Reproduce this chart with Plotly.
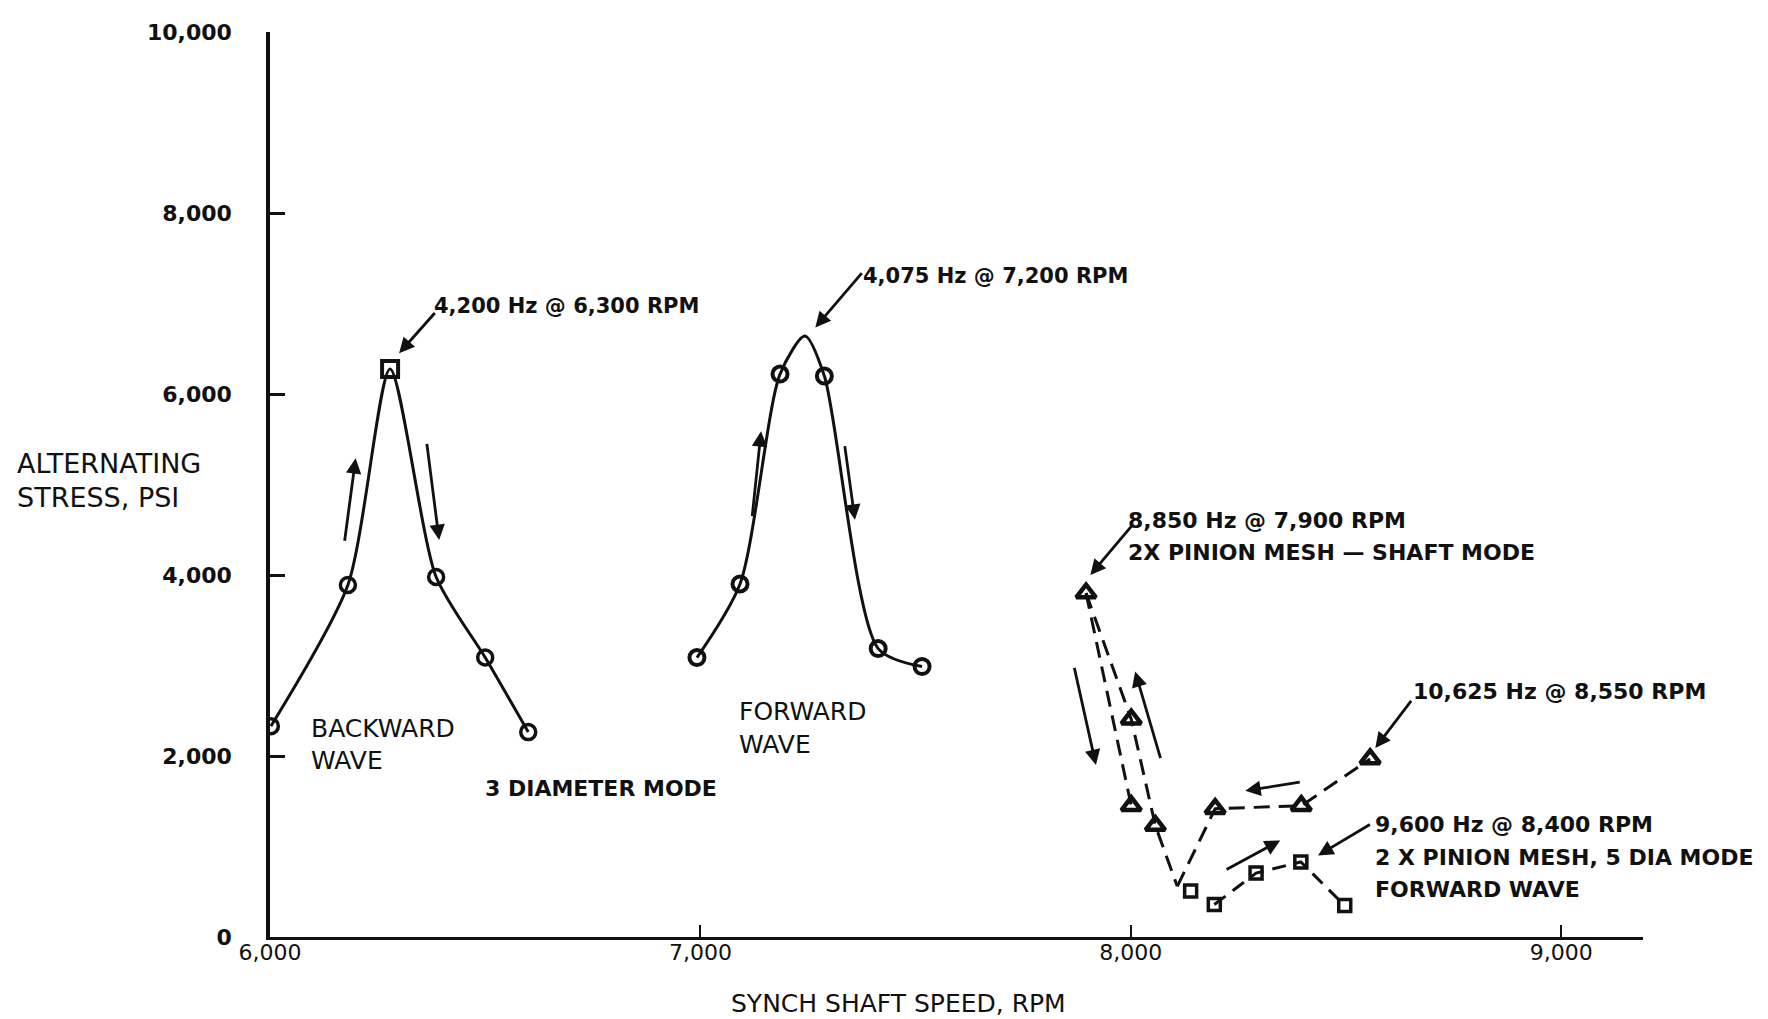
import plotly.graph_objects as go

# ---------------- data ----------------
# 3 diameter mode, backward wave (circles; peak point drawn as a square)
bw_rpm = [6002, 6181, 6279, 6386, 6500, 6600]
bw_psi = [2330, 3890, 6275, 3978, 3088, 2264]

# 3 diameter mode, forward wave (circles)
fw_rpm = [6992, 7092, 7185, 7288, 7413, 7515]
fw_psi = [3088, 3901, 6220, 6198, 3187, 2989]
# hand-drawn curve through the forward-wave points (peak)
fw_curve_rpm = [6992, 7092, 7185, 7243, 7288, 7413, 7515]
fw_curve_psi = [3088, 3901, 6220, 6640, 6198, 3187, 2989]

# 2X pinion mesh - shaft mode (triangles)
sm_rpm = [7896, 8001, 8001, 8057, 8196, 8396, 8556]
sm_psi = [3800, 2407, 1450, 1231, 1418, 1450, 1967]
# dashed paths of the shaft mode
sm_left_rpm = [7896, 8001]
sm_left_psi = [3800, 1450]
sm_right_rpm = [7896, 8001, 8057, 8108]
sm_right_psi = [3800, 2407, 1231, 560]
sm_rise_rpm = [8108, 8196, 8396, 8556]
sm_rise_psi = [560, 1418, 1450, 1967]

# 2X pinion mesh, 5 dia mode, forward wave (squares)
fd_rpm = [8139, 8194, 8291, 8395, 8497]
fd_psi = [508, 359, 706, 830, 347]

x_tickvals = [6000, 7000, 8000, 9000]
x_ticktext = ["6,000", "7,000", "8,000", "9,000"]
y_tickvals = [0, 2000, 4000, 6000, 8000, 10000]
y_ticktext = ["0", "2,000", "4,000", "6,000", "8,000", "10,000"]

# ---------------- figure ----------------
INK = "#111111"
fig = go.Figure()

# backward wave curve + markers
fig.add_trace(go.Scatter(x=bw_rpm, y=bw_psi, mode="lines",
                         line=dict(color=INK, width=3, shape="spline", smoothing=0.7),
                         hoverinfo="skip", showlegend=False))
fig.add_trace(go.Scatter(x=[bw_rpm[i] for i in (0, 1, 3, 4, 5)],
                         y=[bw_psi[i] for i in (0, 1, 3, 4, 5)], mode="markers",
                         marker=dict(symbol="circle-open", size=15, color=INK, line=dict(width=3.5)),
                         showlegend=False))
fig.add_trace(go.Scatter(x=[bw_rpm[2]], y=[bw_psi[2]], mode="markers",
                         marker=dict(symbol="square-open", size=16, color=INK, line=dict(width=4)),
                         showlegend=False))

# forward wave curve + markers
fig.add_trace(go.Scatter(x=fw_curve_rpm, y=fw_curve_psi, mode="lines",
                         line=dict(color=INK, width=3, shape="spline", smoothing=0.75),
                         hoverinfo="skip", showlegend=False))
fig.add_trace(go.Scatter(x=fw_rpm, y=fw_psi, mode="markers",
                         marker=dict(symbol="circle-open", size=15, color=INK, line=dict(width=4)),
                         showlegend=False))

# shaft mode dashed paths + triangle markers
for xs, ys in [(sm_left_rpm, sm_left_psi), (sm_right_rpm, sm_right_psi), (sm_rise_rpm, sm_rise_psi)]:
    fig.add_trace(go.Scatter(x=xs, y=ys, mode="lines",
                             line=dict(color=INK, width=3, dash="16px,9px"),
                             hoverinfo="skip", showlegend=False))
fig.add_trace(go.Scatter(x=sm_rpm, y=sm_psi, mode="markers",
                         marker=dict(symbol="triangle-up-open", size=17, color=INK, line=dict(width=4.5)),
                         showlegend=False))

# 5 dia mode dashed path + square markers
fig.add_trace(go.Scatter(x=fd_rpm[1:], y=fd_psi[1:], mode="lines",
                         line=dict(color=INK, width=3, dash="14px,9px"),
                         hoverinfo="skip", showlegend=False))
fig.add_trace(go.Scatter(x=fd_rpm, y=fd_psi, mode="markers",
                         marker=dict(symbol="square-open", size=12, color=INK, line=dict(width=3.5)),
                         showlegend=False))

# ---------------- annotations ----------------
ann = []
BOLD = dict(family="DejaVu Sans", size=21, color=INK, weight="bold")
BOLD_R = dict(family="DejaVu Sans", size=22, color=INK, weight="bold")
REG = dict(family="DejaVu Sans", size=25, color=INK)


def label(x, y, text, font):
    ann.append(dict(x=x, y=y, xref="x", yref="y", text=text, showarrow=False,
                    xanchor="left", yanchor="middle", xshift=-10, font=font))


label(6400, 6967, "4,200 Hz @ 6,300 RPM", BOLD)
label(7397, 7308, "4,075 Hz @ 7,200 RPM", BOLD)
label(8012, 4604, "8,850 Hz @ 7,900 RPM", BOLD_R)
label(8012, 4253, "2X PINION MESH \u2014 SHAFT MODE", BOLD_R)
label(8675, 2714, "10,625 Hz @ 8,550 RPM", BOLD_R)
label(8587, 1242, "9,600 Hz @ 8,400 RPM", BOLD_R)
label(8587, 879, "2 X PINION MESH, 5 DIA MODE", BOLD_R)
label(8587, 527, "FORWARD WAVE", BOLD_R)
label(6114, 2308, "BACKWARD", REG)
label(6114, 1945, "WAVE", REG)
label(7108, 2494, "FORWARD", REG)
label(7108, 2132, "WAVE", REG)
label(6518, 1637, "3 DIAMETER MODE", BOLD_R)

# arrows: (tail_x, tail_y, head_x, head_y)
pointer_arrows = [
    (6386, 6912, 6300, 6450),
    (7378, 7352, 7267, 6736),
    (8005, 4560, 7906, 4000),
    (8654, 2626, 8568, 2088),
    (8559, 1253, 8435, 901),
]
direction_arrows = [
    (6173, 4362, 6199, 5291),
    (6364, 5465, 6393, 4387),
    (7120, 4634, 7141, 5589),
    (7335, 5440, 7359, 4610),
    (7868, 2990, 7919, 1900),
    (8070, 1960, 8010, 2934),
    (8396, 1714, 8266, 1615),
    (8219, 736, 8347, 1066),
]
for tx, ty, hx, hy in pointer_arrows + direction_arrows:
    ann.append(dict(x=hx, y=hy, ax=tx, ay=ty, xref="x", yref="y", axref="x", ayref="y",
                    text="", showarrow=True, arrowhead=2, arrowsize=1.1, arrowwidth=2.8,
                    arrowcolor=INK, standoff=0, startstandoff=0))

# axis titles
TITLE = dict(family="DejaVu Sans", size=27, color=INK)
ann.append(dict(x=-0.1784, y=0.523, xref="paper", yref="paper", text="ALTERNATING",
                showarrow=False, xanchor="left", yanchor="middle", xshift=-10, font=TITLE))
ann.append(dict(x=-0.1784, y=0.486, xref="paper", yref="paper", text="STRESS, PSI",
                showarrow=False, xanchor="left", yanchor="middle", xshift=-10, font=TITLE))
ann.append(dict(x=0.458, y=-0.074, xref="paper", yref="paper", text="SYNCH SHAFT SPEED, RPM",
                showarrow=False, xanchor="center", yanchor="middle",
                font=dict(family="DejaVu Sans", size=25, color=INK)))

fig.update_layout(
    width=1768, height=1019,
    margin=dict(l=262, r=133, t=19, b=90),
    paper_bgcolor="white", plot_bgcolor="white",
    annotations=ann,
    xaxis=dict(range=[6000, 9190], tickvals=x_tickvals, ticktext=x_ticktext,
               showgrid=False, zeroline=False, showline=True, linecolor=INK, linewidth=3,
               ticks="inside", ticklen=12, tickwidth=2, tickcolor=INK,
               tickfont=dict(family="DejaVu Sans", size=22, color=INK), ticklabelstandoff=-6),
    yaxis=dict(range=[0, 10000], tickvals=y_tickvals, ticktext=y_ticktext,
               showgrid=False, zeroline=False, showline=True, linecolor=INK, linewidth=3.5,
               ticks="inside", ticklen=15, tickwidth=2.5, tickcolor=INK,
               tickfont=dict(family="DejaVu Sans", size=22, color=INK, weight="bold"),
               ticklabelstandoff=30),
)

fig.write_html("out.html")
